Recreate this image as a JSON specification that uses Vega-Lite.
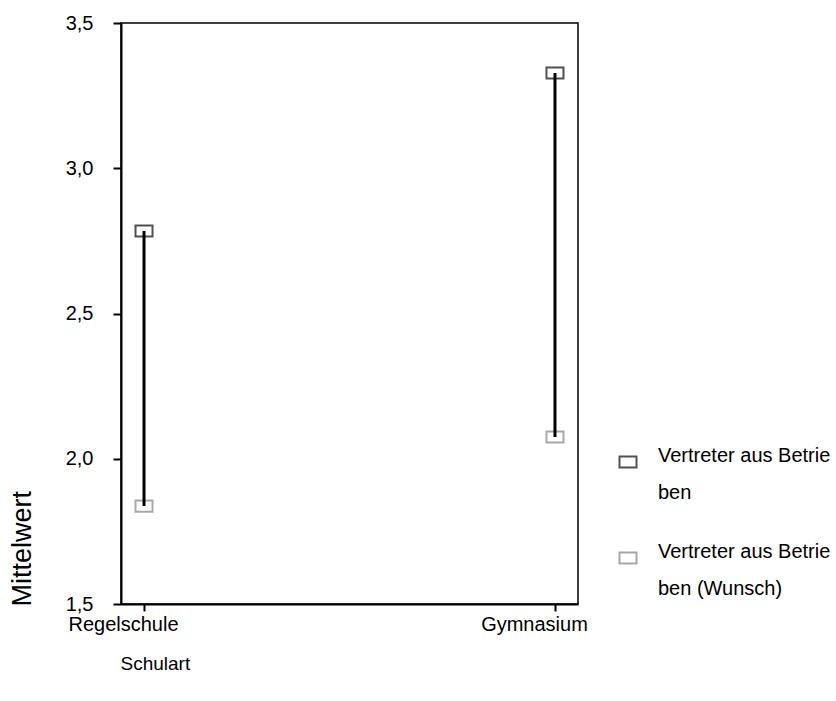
{
  "$schema": "https://vega.github.io/schema/vega-lite/v6.json",
  "autosize": "none",
  "width": 457,
  "height": 581,
  "padding": {"left": 121, "top": 23, "right": 258, "bottom": 97},
  "background": "white",
  "config": {
    "font": "Liberation Sans",
    "view": {"stroke": "black", "strokeWidth": 1.5},
    "style": {"guide-label": {"lineHeight": 37}},
    "axis": {"grid": false, "domainColor": "black", "domainWidth": 2, "tickColor": "black", "tickWidth": 2, "labelColor": "black", "titleColor": "black", "labelFont": "Liberation Sans", "titleFont": "Liberation Sans", "titleFontWeight": "normal"}
  },
  "data": {
    "values": [
      {"Schulart": "Regelschule", "Vertreter aus Betrieben": 2.784, "Vertreter aus Betrieben (Wunsch)": 1.837},
      {"Schulart": "Gymnasium", "Vertreter aus Betrieben": 3.328, "Vertreter aus Betrieben (Wunsch)": 2.075}
    ]
  },
  "encoding": {
    "x": {
      "field": "Schulart", "type": "nominal", "sort": ["Regelschule", "Gymnasium"],
      "scale": {"type": "point", "padding": 0.056},
      "axis": {"title": "Schulart", "labelAngle": 0, "labelFontSize": 20, "labelOffset": -21, "tickSize": 7, "labelPadding": 3, "titleFontSize": 19, "titleX": -1, "titleY": 59, "titleAlign": "left", "titleBaseline": "middle"}
    }
  },
  "layer": [
    {
      "transform": [{"fold": ["Vertreter aus Betrieben", "Vertreter aus Betrieben (Wunsch)"], "as": ["Reihe", "Mittelwert"]}],
      "mark": {"type": "point", "shape": "M-1,-0.65H1V0.65H-1Z", "size": 289, "filled": false, "fill": "white", "fillOpacity": 1, "strokeWidth": 2, "opacity": 1},
      "encoding": {
        "y": {
          "field": "Mittelwert", "type": "quantitative",
          "scale": {"domain": [1.5, 3.5], "nice": false, "zero": false},
          "axis": {"title": "Mittelwert", "values": [1.5, 2, 2.5, 3, 3.5], "labelExpr": "replace(format(datum.value, '.1f'), '.', ',')", "labelFontSize": 20, "tickSize": 8, "labelPadding": 20, "titleFontSize": 27, "titleX": -99, "titleY": 583, "titleAngle": -90, "titleAlign": "left", "titleBaseline": "middle"}
        },
        "stroke": {
          "field": "Reihe", "type": "nominal",
          "scale": {"domain": ["Vertreter aus Betrieben", "Vertreter aus Betrieben (Wunsch)"], "range": ["#505050", "#a8a8a8"]},
          "legend": {
            "title": null, "orient": "none", "legendX": 497, "legendY": 429,
            "symbolType": "M-1,-0.65H1V0.65H-1Z", "symbolSize": 289, "symbolStrokeWidth": 2, "symbolFillColor": "white",
            "labelFontSize": 20, "labelColor": "black", "labelOffset": 20, "rowPadding": 39, "labelBaseline": "alphabetic",
            "labelExpr": "datum.label == 'Vertreter aus Betrieben' ? ['Vertreter aus Betrie', 'ben'] : ['Vertreter aus Betrie', 'ben (Wunsch)']",
            "labelLimit": 300,
            "encode": {"labels": {"update": {"lineHeight": {"value": 37}}}}
          }
        }
      }
    },
    {
      "mark": {"type": "rule", "color": "black", "strokeWidth": 3},
      "encoding": {
        "y": {"field": "Vertreter aus Betrieben", "type": "quantitative"},
        "y2": {"field": "Vertreter aus Betrieben (Wunsch)"}
      }
    }
  ]
}
